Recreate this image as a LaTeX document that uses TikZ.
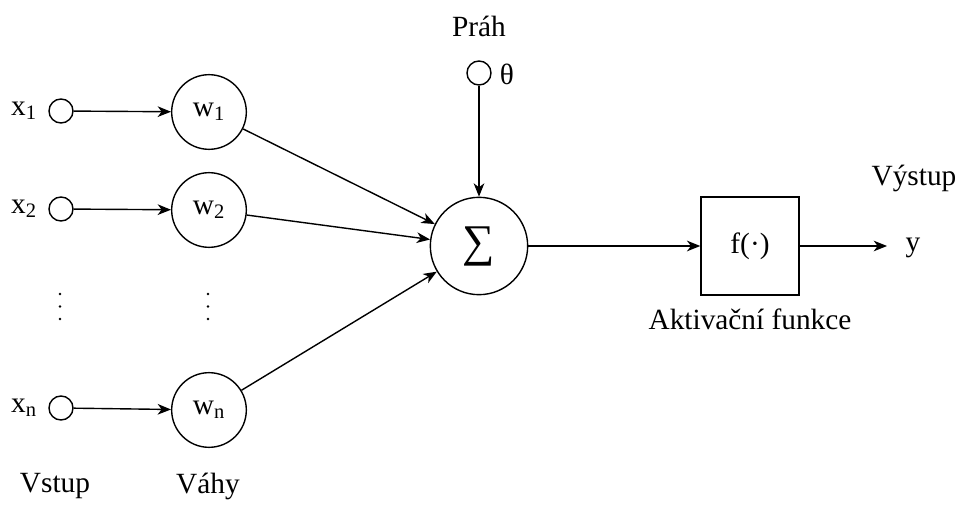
\documentclass[tikz,border=0pt]{standalone}
\usepackage{fontspec}
\setmainfont{Liberation Serif}
\usetikzlibrary{arrows.meta}
\begin{document}
\begin{tikzpicture}[x=0.75pt,y=-0.75pt,
  every node/.style={font=\fontsize{22}{26}\selectfont},
  arr/.style={line width=1.05pt,-{Stealth[length=10pt,width=8pt,inset=3pt]}},
  inp/.style={circle,draw,line width=1.05pt,minimum size=18pt,inner sep=0pt},
  wgt/.style={circle,draw,line width=1.05pt,minimum size=56pt,inner sep=0pt},
  dotpt/.style={circle,fill,minimum size=1.9pt,inner sep=0pt},
  lbl/.style={inner sep=0pt}]
\useasboundingbox (0,0) rectangle (961,506);
% inputs
\node[inp] (i1) at (61,111) {};
\node[inp] (i2) at (61,209) {};
\node[inp] (in) at (61,408) {};
\node[lbl] (lx1) at (24,111) {x\textsubscript{1}};
\node[lbl] (lx2) at (24,209) {x\textsubscript{2}};
\node[lbl] (lxn) at (24,408) {x\textsubscript{n}};
% weights
\node[wgt] (w1) at (209,112) {w\textsubscript{1}};
\node[wgt] (w2) at (209,210) {w\textsubscript{2}};
\node[wgt] (wn) at (209,410) {w\textsubscript{n}};
% dots
\foreach \yy [count=\k] in {294,306.5,319} {
  \node[dotpt] (da\k) at (60,\yy) {};
  \node[dotpt] (db\k) at (208,\yy) {};
}
% sum
\node[circle,draw,line width=1.05pt,minimum size=73pt,inner sep=0pt] (s) at (479,246) {\fontsize{34}{36}\selectfont ∑};
% threshold
\node[inp] (t) at (479,73) {};
\node[lbl] (lt) at (507,74) {θ};
\node[lbl] (prah) at (479,26) {Práh};
% activation
\node[draw,line width=1.05pt,minimum size=73.5pt,inner sep=0pt] (f) at (750,246) {f(·)};
\coordinate (yend) at (887,246);
\node[lbl] (ly) at (913,248) {y};
\node[lbl] (vys) at (914,178) {Výstup};
\node[lbl] (akt) at (750,319) {Aktivační funkce};
\node[lbl] (vst) at (55,486) {Vstup};
\node[lbl] (vah) at (208,486) {Váhy};
% connectors
\draw[arr] (i1) -- (w1);
\draw[arr] (i2) -- (w2);
\draw[arr] (in) -- (wn);
\draw[arr] (w1) -- (s);
\draw[arr] (w2) -- (s);
\draw[arr] (wn) -- (s);
\draw[arr] (t) -- (s);
\draw[arr] (s) -- (f);
\draw[arr] (f) -- (yend);
\end{tikzpicture}
\end{document}
